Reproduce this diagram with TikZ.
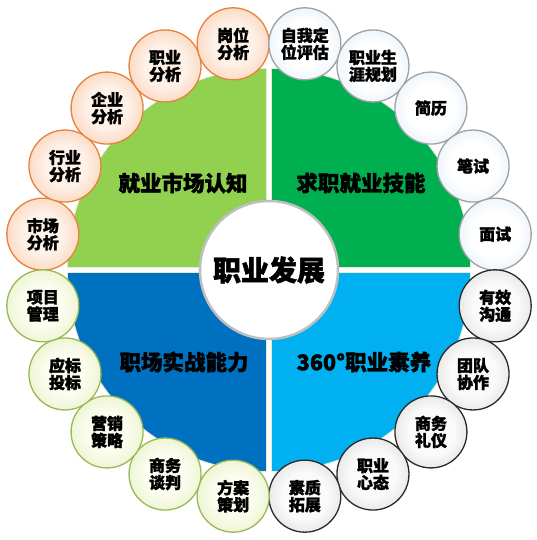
\documentclass[tikz,border=0pt]{standalone}
\usepackage{fontspec}
\newfontfamily\cjk{Noto Sans CJK SC}[BoldFeatures={FakeBold=1.6}]
\definecolor{qA}{HTML}{92D050}
\definecolor{qB}{HTML}{00B050}
\definecolor{qC}{HTML}{0070C0}
\definecolor{qD}{HTML}{00B0F0}
\definecolor{qEdge}{HTML}{E4ECD2}
\definecolor{oIn}{HTML}{FEF1E8}
\definecolor{oOut}{HTML}{F5AD7C}
\definecolor{oB}{HTML}{E5823C}
\definecolor{bIn}{HTML}{FFFFFF}
\definecolor{bOut}{HTML}{C0DAF2}
\definecolor{bB}{HTML}{A0A0A0}
\definecolor{gIn}{HTML}{FBFDEE}
\definecolor{gOut}{HTML}{D2E3A0}
\definecolor{gB}{HTML}{98B954}
\definecolor{kIn}{HTML}{FAFAFA}
\definecolor{kOut}{HTML}{BBBBBB}
\definecolor{kB}{HTML}{2A2A2A}
\definecolor{ctrB}{HTML}{BFBFBF}
\pgfdeclareradialshading{shO}{\pgfpoint{0bp}{0bp}}{color(0bp)=(oIn); color(14bp)=(oIn); color(50bp)=(oOut)}
\pgfdeclareradialshading{shB}{\pgfpoint{0bp}{0bp}}{color(0bp)=(bIn); color(16bp)=(bIn); color(50bp)=(bOut)}
\pgfdeclareradialshading{shG}{\pgfpoint{0bp}{0bp}}{color(0bp)=(gIn); color(14bp)=(gIn); color(50bp)=(gOut)}
\pgfdeclareradialshading{shK}{\pgfpoint{0bp}{0bp}}{color(0bp)=(kIn); color(16bp)=(kIn); color(50bp)=(kOut)}
\tikzset{
  ball/.style={circle, minimum size=72pt, inner sep=0pt, line width=1.3pt,
    font=\cjk\bfseries\fontsize{16}{17}\selectfont, align=center, text=black},
  ballO/.style={ball, draw=oB, shading=shO},
  ballB/.style={ball, draw=bB, shading=shB},
  ballG/.style={ball, draw=gB, shading=shG},
  ballK/.style={ball, draw=kB, shading=shK},
  quad/.style={draw=qEdge, line width=0.8pt},
  qlabel/.style={font=\cjk\bfseries\fontsize{21.5}{24}\selectfont, text=black},
}
\begin{document}
\begin{tikzpicture}[x=1pt,y=1pt]
\fill[white] (-269,-270) rectangle (267,270);
\useasboundingbox (-269,-270) rectangle (267,270);
% quadrants
\path[quad, fill=qA] (-2.5,2.5) -- ++(-199,0) arc[start angle=180, end angle=90, radius=199] -- cycle;
\path[quad, fill=qB] (2.5,2.5) -- ++(0,199) arc[start angle=90, end angle=0, radius=199] -- cycle;
\path[quad, fill=qC] (-2.5,-2.5) -- ++(0,-199) arc[start angle=270, end angle=180, radius=199] -- cycle;
\path[quad, fill=qD] (2.5,-2.5) -- ++(199,0) arc[start angle=0, end angle=-90, radius=199] -- cycle;
% quadrant labels
\node[qlabel] (lab1) at (-86,87) {就业市场认知};
\node[qlabel] (lab2) at (92,87) {求职就业技能};
\node[qlabel] (lab3) at (-85,-92) {职场实战能力};
\node[qlabel] (lab4) at (95,-92) {360°职业素养};
% centre
\node[circle, minimum size=138pt, inner sep=0pt, fill=white, draw=ctrB, line width=2.5pt,
  font=\cjk\bfseries\fontsize{28}{30}\selectfont] (ctr) at (0,0) {职业发展};
% small circles
\foreach \a/\s/\t [count=\i] in {
  171/ballO/{市场\\分析}, 153/ballO/{行业\\分析}, 135/ballO/{企业\\分析}, 117/ballO/{职业\\分析}, 99/ballO/{岗位\\分析},
  81/ballB/{自我定\\位评估}, 63/ballB/{职业生\\涯规划}, 45/ballB/{简历}, 27/ballB/{笔试}, 9/ballB/{面试},
  -9/ballK/{有效\\沟通}, -27/ballK/{团队\\协作}, -45/ballK/{商务\\礼仪}, -63/ballK/{职业\\心态}, -81/ballK/{素质\\拓展},
  -99/ballG/{方案\\策划}, -117/ballG/{商务\\谈判}, -135/ballG/{营销\\策略}, -153/ballG/{应标\\投标}, -171/ballG/{项目\\管理}}
  \node[\s] (c\i) at (\a:229pt) {\t};
\end{tikzpicture}
\end{document}
